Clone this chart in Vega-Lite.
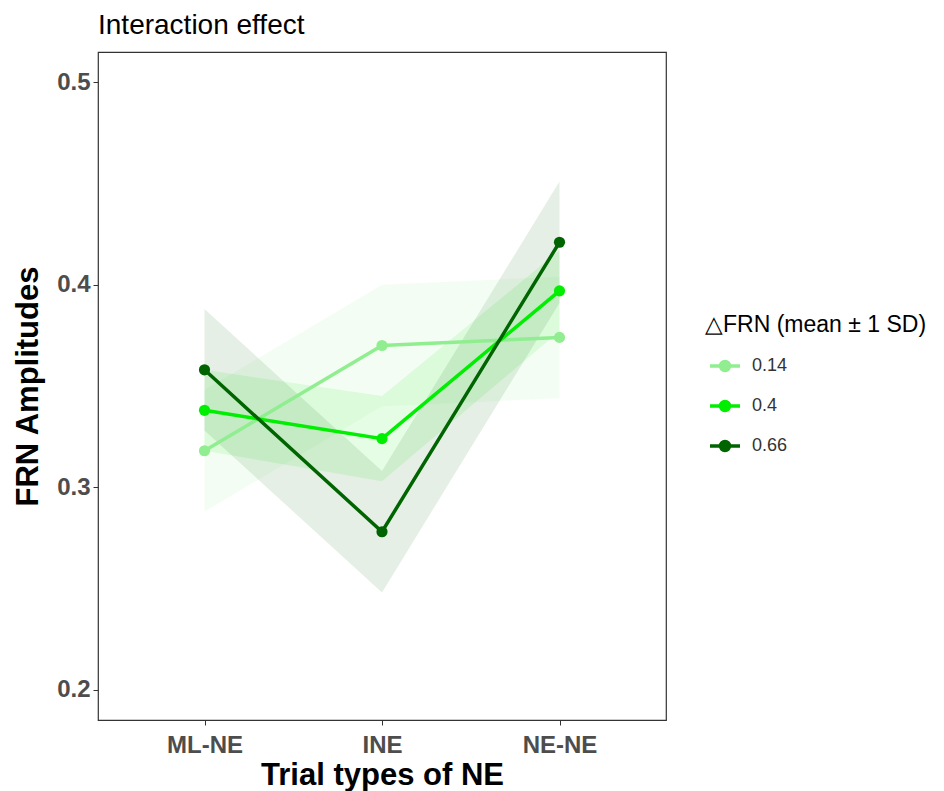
{
  "$schema": "https://vega.github.io/schema/vega-lite/v6.json",
  "width": 568,
  "height": 668,
  "autosize": "none",
  "padding": {"left": 98, "top": 52, "right": 278, "bottom": 71},
  "background": "white",
  "config": {
    "font": "Liberation Sans",
    "view": {"stroke": "#333333", "strokeWidth": 1.2}
  },
  "title": {
    "text": "Interaction effect",
    "anchor": "start",
    "frame": "group",
    "fontSize": 28,
    "fontWeight": "normal",
    "color": "#000000",
    "offset": 12
  },
  "data": {
    "values": [
      {"type": "ML-NE", "level": "0.14", "mean": 0.318, "lo": 0.288, "hi": 0.348},
      {"type": "INE", "level": "0.14", "mean": 0.370, "lo": 0.340, "hi": 0.400},
      {"type": "NE-NE", "level": "0.14", "mean": 0.374, "lo": 0.344, "hi": 0.404},
      {"type": "ML-NE", "level": "0.4", "mean": 0.338, "lo": 0.318, "hi": 0.358},
      {"type": "INE", "level": "0.4", "mean": 0.324, "lo": 0.303, "hi": 0.345},
      {"type": "NE-NE", "level": "0.4", "mean": 0.397, "lo": 0.377, "hi": 0.417},
      {"type": "ML-NE", "level": "0.66", "mean": 0.358, "lo": 0.328, "hi": 0.388},
      {"type": "INE", "level": "0.66", "mean": 0.278, "lo": 0.248, "hi": 0.308},
      {"type": "NE-NE", "level": "0.66", "mean": 0.421, "lo": 0.391, "hi": 0.451}
    ]
  },
  "encoding": {
    "x": {
      "field": "type",
      "type": "nominal",
      "sort": ["ML-NE", "INE", "NE-NE"],
      "scale": {"type": "point", "padding": 0.6},
      "axis": {
        "title": "Trial types of NE",
        "titleFontSize": 31,
        "titleFontWeight": "bold",
        "titleColor": "#000000",
        "titlePadding": 3,
        "labelFontSize": 24,
        "labelFontWeight": "bold",
        "labelColor": "#4D4D4D",
        "labelAngle": 0,
        "labelPadding": 8,
        "tickColor": "#333333",
        "tickSize": 5,
        "domain": false,
        "grid": false
      }
    },
    "color": {
      "field": "level",
      "type": "nominal",
      "sort": ["0.14", "0.4", "0.66"],
      "scale": {"domain": ["0.14", "0.4", "0.66"], "range": ["#90EE90", "#00EE00", "#006400"]},
      "legend": {
        "title": "△FRN (mean ± 1 SD)",
        "orient": "none",
        "legendX": 607,
        "legendY": 262,
        "padding": 0,
        "titleFontSize": 23,
        "titleFontWeight": "normal",
        "titleColor": "#000000",
        "titleLimit": 400,
        "titlePadding": 17,
        "labelFontSize": 18,
        "labelColor": "#333333",
        "labelOffset": 23,
        "rowPadding": 16,
        "symbolSize": 400,
        "symbolType": "M-0.7,0H2.3M0.35,0A0.45,0.45,0,1,1,1.25,0A0.45,0.45,0,1,1,0.35,0Z",
        "symbolStrokeWidth": 3.5,
        "symbolOpacity": 1,
        "symbolFillOpacity": 1
      }
    }
  },
  "layer": [
    {
      "mark": {"type": "area", "opacity": 0.1},
      "encoding": {
        "y": {"field": "lo", "type": "quantitative"},
        "y2": {"field": "hi"}
      }
    },
    {
      "mark": {"type": "line", "strokeWidth": 3.5},
      "encoding": {
        "y": {
          "field": "mean",
          "type": "quantitative",
          "scale": {"domain": [0.185, 0.515], "nice": false, "zero": false},
          "axis": {
            "title": "FRN Amplitudes",
            "titleFontSize": 31,
            "titleFontWeight": "bold",
            "titleColor": "#000000",
            "titlePadding": 12,
            "values": [0.2, 0.3, 0.4, 0.5],
            "format": ".1f",
            "labelFontSize": 24,
            "labelFontWeight": "bold",
            "labelColor": "#4D4D4D",
            "labelPadding": 3,
            "tickColor": "#333333",
            "tickSize": 5,
            "domain": false,
            "grid": false
          }
        }
      }
    },
    {
      "mark": {"type": "point", "filled": true, "size": 125, "opacity": 1},
      "encoding": {
        "y": {"field": "mean", "type": "quantitative"}
      }
    }
  ]
}
